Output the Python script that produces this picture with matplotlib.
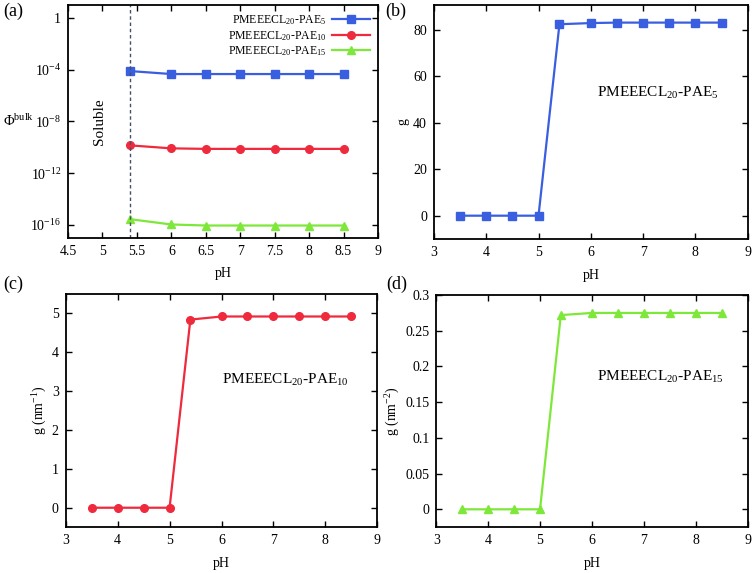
import matplotlib
matplotlib.use("Agg")
import matplotlib.pyplot as plt
import numpy as np

plt.rcParams['font.family'] = ['Liberation Serif', 'DejaVu Serif']
plt.rcParams['mathtext.fontset'] = 'custom'
plt.rcParams['mathtext.rm'] = 'Liberation Serif'
plt.rcParams['mathtext.it'] = 'Liberation Serif:italic'
plt.rcParams['mathtext.default'] = 'regular'

# ---- data ----
ph_a = [5.4, 6.0, 6.5, 7.0, 7.5, 8.0, 8.5]
phi_pae5 = [10**-4.10, 10**-4.33, 10**-4.33, 10**-4.33, 10**-4.33, 10**-4.33, 10**-4.33]
phi_pae10 = [10**-9.85, 10**-10.08, 10**-10.12, 10**-10.12, 10**-10.12, 10**-10.12, 10**-10.12]
phi_pae15 = [10**-15.56, 10**-15.97, 10**-16.05, 10**-16.05, 10**-16.05, 10**-16.05, 10**-16.05]

ph = [3.5, 4.0, 4.5, 5.0, 5.4, 6.0, 6.5, 7.0, 7.5, 8.0, 8.5]
g_pae5 = [0, 0, 0, 0, 82.3, 82.8, 83.0, 83.0, 83.0, 83.0, 83.0]
g_pae10 = [0, 0, 0, 0, 4.84, 4.92, 4.92, 4.92, 4.92, 4.92, 4.92]
g_pae15 = [0, 0, 0, 0, 0.272, 0.275, 0.275, 0.275, 0.275, 0.275, 0.275]

labels = ['PMEEECL$_{20}$-PAE$_{5}$', 'PMEEECL$_{20}$-PAE$_{10}$', 'PMEEECL$_{20}$-PAE$_{15}$']
colors = ['#3a5ee0', '#ee2a3c', '#7ee83a']
markers = ['s', 'o', '^']

fig = plt.figure(figsize=(7.56, 5.73), dpi=100)
axa = fig.add_axes([0.090, 0.585, 0.410, 0.406])
axb = fig.add_axes([0.574, 0.583, 0.415, 0.408])
axc = fig.add_axes([0.087, 0.080, 0.412, 0.407])
axd = fig.add_axes([0.577, 0.080, 0.412, 0.405])

tick_fs = 10

def style(ax):
    ax.tick_params(direction='in', length=4.5, width=1, top=True, right=True,
                   labelsize=tick_fs, pad=5)
    ax.tick_params(which='minor', length=0)
    for s in ax.spines.values():
        s.set_linewidth(1.3)

# (a)
for y, c, m, l in zip([phi_pae5, phi_pae10, phi_pae15], colors, markers, labels):
    axa.plot(ph_a, y, color=c, marker=m, ms=5.5, lw=1.6, label=l)
axa.set_yscale('log')
axa.set_xlim(4.5, 9)
axa.set_ylim(1e-17, 1e1)
yt = [1e-16, 1e-12, 1e-8, 1e-4, 1]
axa.set_yticks(yt)
axa.set_yticklabels(['$10^{-16}$', '$10^{-12}$', '$10^{-8}$', '$10^{-4}$', '1'])
axa.set_xticks([4.5, 5, 5.5, 6, 6.5, 7, 7.5, 8, 8.5, 9])
axa.set_xticklabels(['4.5', '5', '5.5', '6', '6.5', '7', '7.5', '8', '8.5', '9'])
axa.axvline(5.4, color='#44506a', ls=(0, (2.5, 2)), lw=1)
axa.text(4.95, 1e-8, 'Soluble', rotation=90, ha='center', va='center', fontsize=11)
axa.set_xlabel('pH', fontsize=10, labelpad=7)
axa.set_ylabel('$\\Phi^{bulk}$', fontsize=10.5, rotation=0, ha='center', va='center')
axa.yaxis.set_label_coords(-0.16, 0.50)
axa.legend(loc='upper right', frameon=False, markerfirst=False, fontsize=8.5,
           handlelength=3.2, labelspacing=0.15, borderaxespad=0.3, handletextpad=0.5)
style(axa)

# (b)
axb.plot(ph, g_pae5, color=colors[0], marker='s', ms=5.5, lw=1.6)
axb.set_xlim(3, 9)
axb.set_ylim(-10, 90.5)
axb.set_yticks([0, 20, 40, 60, 80])
axb.text(0.52, 0.625, labels[0], transform=axb.transAxes, fontsize=11, ha='left', va='center')
axb.set_xlabel('pH', fontsize=10, labelpad=7)
axb.set_ylabel('g', fontsize=10, labelpad=3)
style(axb)

# (c)
axc.plot(ph, g_pae10, color=colors[1], marker='o', ms=5.5, lw=1.6)
axc.set_xlim(3, 9)
axc.set_ylim(-0.5, 5.5)
axc.set_yticks([0, 1, 2, 3, 4, 5])
axc.text(0.50, 0.63, labels[1], transform=axc.transAxes, fontsize=11, ha='left', va='center')
axc.set_xlabel('pH', fontsize=10, labelpad=7)
axc.set_ylabel('g (nm$^{-1}$)', fontsize=10, labelpad=2)
style(axc)

# (d)
axd.plot(ph, g_pae15, color=colors[2], marker='^', ms=6, lw=1.6)
axd.set_xlim(3, 9)
axd.set_ylim(-0.025, 0.3)
axd.set_yticks([0, 0.05, 0.1, 0.15, 0.2, 0.25, 0.3])
axd.set_yticklabels(['0', '0.05', '0.1', '0.15', '0.2', '0.25', '0.3'])
axd.text(0.515, 0.647, labels[2], transform=axd.transAxes, fontsize=11, ha='left', va='center')
axd.set_xlabel('pH', fontsize=10, labelpad=7)
axd.set_ylabel('g (nm$^{-2}$)', fontsize=10, labelpad=2)
style(axd)

for x, y, t in [(3, 562, '(a)'), (385, 562, '(b)'), (3, 289, '(c)'), (386, 289, '(d)')]:
    fig.text(x / 756, y / 573, t, fontsize=13, ha='left', va='center')

fig.savefig('out.png', dpi=100)
